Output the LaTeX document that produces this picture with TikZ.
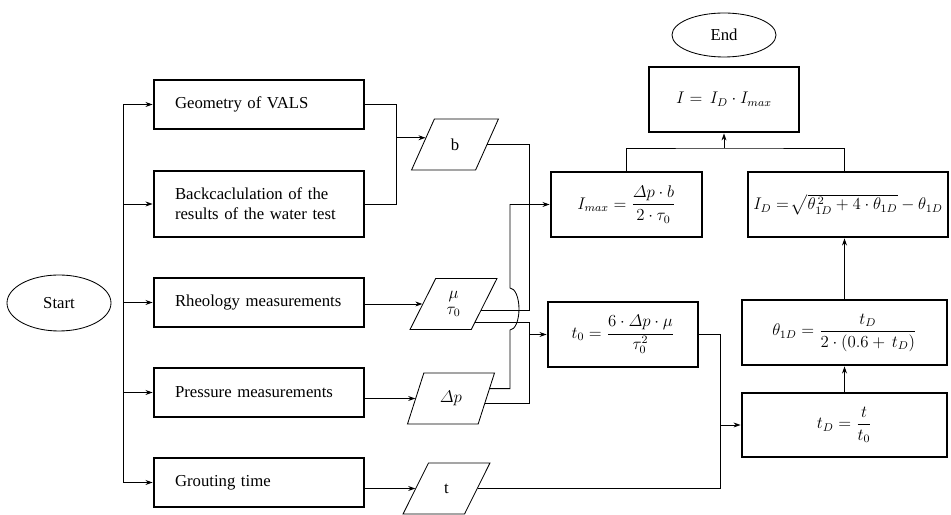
\documentclass[tikz,border=0pt]{standalone}
\usepackage{amsmath}
\usepackage{fontspec}
\setmainfont{Liberation Serif}
\usetikzlibrary{shapes.geometric, arrows.meta, positioning, calc}

\begin{document}
\begin{tikzpicture}[
	every node/.style={font=\fontsize{11.9}{14.2}\selectfont},
	stepbox/.style={draw, line width=2pt, minimum height=1.225cm},
	inbox/.style={stepbox, align=left, text width=4.2cm, inner xsep=0.525cm},
	calcbox/.style={stepbox, minimum height=1.625cm},
	datain/.style={draw, line width=0.6pt, trapezium, trapezium left angle=67, trapezium right angle=113,
		trapezium stretches=true, minimum width=2.175cm, minimum height=1.275cm, inner sep=1pt},
	term/.style={draw, line width=0.6pt, ellipse},
	line/.style={line width=0.6pt},
	arr/.style={line, -{Stealth[length=5pt,width=3.5pt]}}
	]
	\useasboundingbox (0,0) rectangle (23.775,12.875);

	% start and measured input
	\node[term, minimum width=2.6cm, minimum height=1.4cm] (start) at (1.475,5.3) {Start};
	\node[inbox] (geom) at (6.475,10.2625) {Geometry of VALS};
	\node[inbox, minimum height=1.65cm] (back) at (6.475,7.775) {Backcaclulation of the\\results of the water test};
	\node[inbox] (rheo) at (6.475,5.3125) {Rheology measurements};
	\node[inbox] (press) at (6.475,3.0625) {Pressure measurements};
	\node[inbox] (grout) at (6.475,0.8125) {Grouting time};

	% data
	\node[datain] (bin) at (11.375,9.2625) {b};
	\node[datain, align=center] (muin) at (11.3375,5.275) {$\mu$\\[-3pt]$\tau_0$};
	\node[datain] (dpin) at (11.275,2.9125) {$\varDelta p$};
	\node[datain] (tin) at (11.1625,0.6625) {t};

	% calculation
	\node[calcbox, minimum width=3.775cm] (imax) at (15.6625,7.7625) {$I_{max} = \dfrac{\varDelta p\cdot b}{2\cdot\tau_0}$};
	\node[calcbox, minimum width=5.0cm] (id) at (21.2,7.7625) {$I_D =\!\sqrt{\theta_{1D}^{\,2} + 4\cdot\theta_{1D}} - \theta_{1D}$};
	\node[calcbox, minimum width=3.75cm] (ires) at (18.1,10.3875) {$I = \,I_D\cdot I_{max}$};
	\node[term, minimum width=2.6cm, minimum height=1.1cm] (finish) at (18.1,12.0) {End};
	\node[calcbox, minimum width=3.75cm] (tnull) at (15.575,4.5125) {$t_0 = \dfrac{6\cdot\varDelta p\cdot\mu}{\tau_0^2}$};
	\node[calcbox, minimum width=5.125cm] (theta) at (21.1125,4.5625) {$\theta_{1D} = \dfrac{t_D}{2\cdot(0.6 + \,t_D)}$};
	\node[calcbox, minimum width=5.125cm, minimum height=1.6cm] (td) at (21.1125,2.25) {$t_D = \dfrac{t}{t_0}$};

	% trunk to the inputs
	\coordinate (trunk) at (3.075,0);
	\draw[line] (trunk |- geom.west) -- (trunk |- grout.west);
	\foreach \n in {geom,back,rheo,press,grout}
		\draw[arr] (trunk |- \n.west) -- (\n.west);

	% inputs to data
	\coordinate (gbjoin) at (9.9,0);
	\coordinate (bina) at ($(bin.top left corner)!0.37!(bin.bottom left corner)$);
	\draw[line] (geom.east) -| (gbjoin |- back.east) -- (back.east);
	\draw[arr] (gbjoin |- bina) -- (bina);
	\draw[arr] (rheo.east |- muin.west) -- (muin.west);
	\draw[arr] (press.east |- dpin.west) -- (dpin.west);
	\draw[arr] (grout.east |- tin.west) -- (tin.west);

	% data to calculation
	\coordinate (mua) at ($(muin.top right corner)!0.62!(muin.bottom right corner)$);
	\coordinate (mub) at ($(muin.top right corner)!0.85!(muin.bottom right corner)$);
	\coordinate (dpa) at ($(dpin.top right corner)!0.31!(dpin.bottom right corner)$);
	\coordinate (dpb) at ($(dpin.top right corner)!0.59!(dpin.bottom right corner)$);
	\coordinate (rjoin) at (13.225,0);
	\coordinate (hoplo) at (12.75,4.625);
	\draw[line] (bin.east) -| (rjoin |- mua) -- (mua);
	\draw[line] (mub) -| (rjoin |- dpb) -- (dpb);
	\draw[arr] (rjoin |- tnull.west) -- (tnull.west);
	\draw[arr] (dpa) -| (hoplo) arc[start angle=-90, end angle=90, x radius=0.225, y radius=0.525] |- (imax.west);

	\coordinate (tjoin) at (18.0,0);
	\draw[line] (tnull.east) -| (tjoin |- tin.east) -- (tin.east);
	\draw[arr] (tjoin |- td.west) -- (td.west);
	\draw[arr] (td.north) -- (theta.south);
	\draw[arr] (theta.north) -- (theta.north |- id.south);

	\coordinate (ijoin) at (18.1,9.175);
	\draw[line] (imax.north) |- (ijoin) -| (theta.north |- id.north);
	\draw[arr] (ijoin) -- (ires.south);
\end{tikzpicture}
\end{document}
